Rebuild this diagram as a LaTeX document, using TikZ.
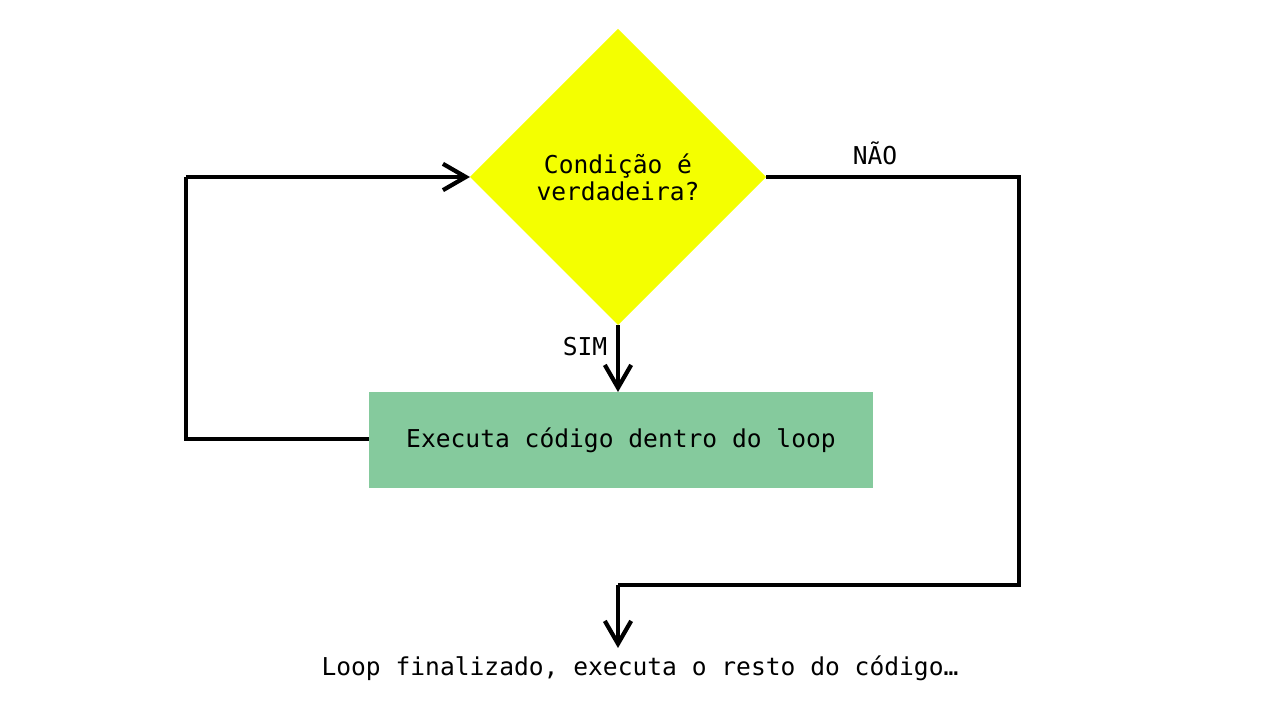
\documentclass[tikz,border=0pt]{standalone}
\usepackage{fontspec}
\setmonofont{DejaVu Sans Mono}
\usetikzlibrary{shapes.geometric,arrows.meta}
\definecolor{amarelo}{HTML}{F4FF00}
\definecolor{verde}{HTML}{85CA9D}
\tikzset{every picture/.style={line width=2.4pt}}
\tikzset{
  fluxo/.style={draw=black},
  seta/.style={-{Straight Barb[length=13pt,width=15pt]}},
  rotulo/.style={font=\ttfamily\fontsize{14}{15.5}\selectfont}
}

\begin{document}
\begin{tikzpicture}[scale=0.2]
\tikzstyle{every node}+=[inner sep=0pt, outer sep=0pt]
\useasboundingbox (0,0) rectangle (128,-72);
% decisao e bloco do loop
\node [diamond, aspect=1, fill=amarelo, minimum width=5.92cm, minimum height=5.92cm, rotulo, align=center] (cond) at (61.8,-17.7) {Condição é\\verdadeira?};
\node [rectangle, fill=verde, minimum width=10.08cm, minimum height=1.92cm, rotulo] (corpo) at (62.1,-44.0) {Executa código dentro do loop};
\node [rotulo] (fim) at (64.0,-66.8) {Loop finalizado, executa o resto do código…};
% cantos dos caminhos
\coordinate (voltaB) at (18.6,-43.9);
\coordinate (voltaA) at (18.6,-17.7);
\coordinate (saiA) at (101.9,-17.7);
\coordinate (saiB) at (101.9,-58.5);
\coordinate (saiC) at (61.8,-58.5);
\coordinate (fimseta) at (61.8,-64.8);
% caminho SIM
\draw [fluxo, seta] (cond.south) -- (cond.south |- corpo.north);
\draw (58.5,-34.7) node [rotulo] {SIM};
% volta do loop
\draw [fluxo] (corpo.west |- voltaB) -- (voltaB) -- (voltaA);
\draw [fluxo, seta] (voltaA) -- (cond.west);
% caminho NAO
\draw [fluxo] (cond.east) -- (saiA) -- (saiB) -- (saiC);
\draw [fluxo, seta] (saiC) -- (fimseta);
\draw (87.5,-15.3) node [rotulo] {NÃO};
\end{tikzpicture}
\end{document}
